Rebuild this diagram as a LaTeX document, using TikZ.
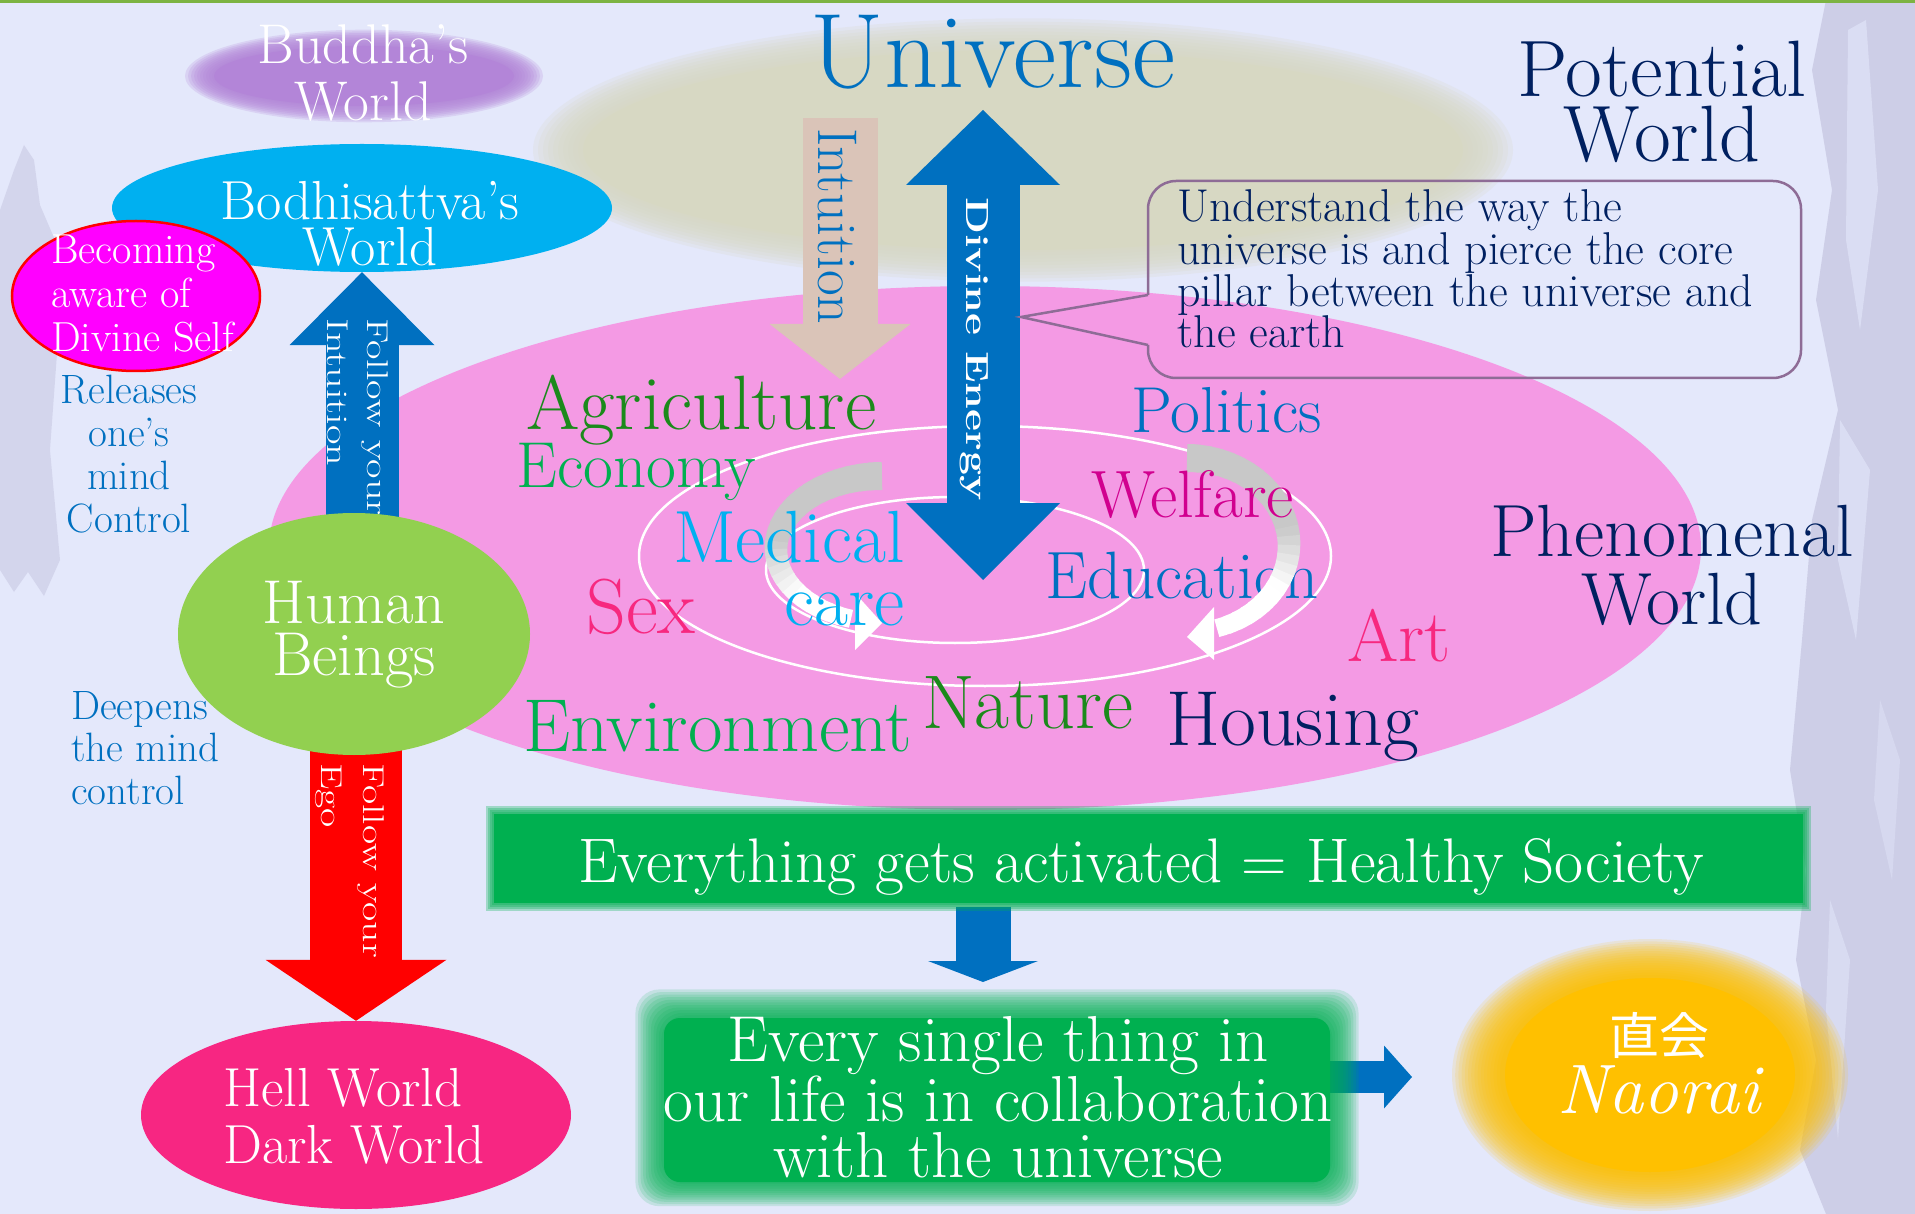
\documentclass[tikz,border=0pt]{standalone}
\usepackage{fontspec}
\usepackage{graphicx}
\newfontfamily\cjkfont{Noto Sans CJK JP}
\usetikzlibrary{shapes.geometric, arrows.meta, positioning}

% colours
\definecolor{paper}{HTML}{E4E8FB}
\definecolor{texture}{HTML}{CDCEE7}
\definecolor{topline}{HTML}{7CB342}
\definecolor{univblue}{HTML}{0070C0}
\definecolor{navy}{HTML}{002060}
\definecolor{leafgreen}{HTML}{00B050}
\definecolor{darkleaf}{HTML}{1B8A1B}
\definecolor{skycyan}{HTML}{00B0F0}
\definecolor{rosered}{HTML}{F7287F}
\definecolor{plum}{HTML}{D1008F}
\definecolor{phenopink}{HTML}{F49AE4}
\definecolor{hellpink}{HTML}{F72682}
\definecolor{selfmagenta}{HTML}{FF00FF}
\definecolor{selfred}{HTML}{FF0000}
\definecolor{khaki}{HTML}{D7D8C3}
\definecolor{buddhapurple}{HTML}{B385D8}
\definecolor{sand}{HTML}{DAC4B8}
\definecolor{lime}{HTML}{92D050}
\definecolor{calloutline}{HTML}{8E6C96}
\definecolor{gold}{HTML}{FFC000}
\definecolor{ringgray}{HTML}{C8C8C8}

\newcommand{\tsize}[2]{\fontsize{#1}{#2}\selectfont}

\tikzset{
  blob/.style={ellipse, inner sep=0pt},
  wordnode/.style={inner sep=0pt, anchor=base west},
  bigarrow/.style n args={4}{draw=#1, line width=#2, -{Triangle[line width=0pt, width=#3, length=#4]}},
}

\begin{document}
\begin{tikzpicture}[x=1pt, y=-1pt]
\useasboundingbox (0,0) rectangle (1915,1214);
\fill[paper] (0,0) rectangle (1915,1214);

% brush texture at the sides
\fill[texture] (1826,0) -- (1812,70) -- (1832,190) -- (1816,300) -- (1838,410) -- (1812,520)
  -- (1802,640) -- (1790,770) -- (1806,870) -- (1796,960) -- (1816,1060) -- (1800,1150)
  -- (1826,1214) -- (1915,1214) -- (1915,0) -- cycle;
\fill[paper, opacity=0.6] (1848,30) -- (1866,20) -- (1878,190) -- (1860,330) -- (1846,240) -- cycle;
\fill[paper, opacity=0.6] (1840,420) -- (1870,470) -- (1856,640) -- (1838,560) -- cycle;
\fill[paper, opacity=0.5] (1830,900) -- (1850,960) -- (1838,1140) -- (1826,1010) -- cycle;
\fill[paper, opacity=0.4] (1880,700) -- (1900,760) -- (1892,880) -- (1874,800) -- cycle;
\fill[texture, opacity=0.7] (0,210) -- (14,170) -- (24,145) -- (34,160) -- (40,205) -- (55,240)
  -- (58,340) -- (50,450) -- (60,560) -- (44,596) -- (28,572) -- (14,592) -- (0,570) -- cycle;
\fill[topline] (0,0) rectangle (1915,3);

% universe haze
\foreach \k in {0,...,9}
  \fill[khaki, opacity=0.2] (1023,150) ellipse [x radius={445+5*\k}, y radius={102+3.3*\k}];
\fill[khaki] (1023,150) ellipse [x radius=440, y radius=100];

% buddha haze
\foreach \k in {0,...,9}
  \fill[buddhapurple, opacity=0.22] (364,76) ellipse [x radius={152+3*\k}, y radius={31+1.7*\k}];
\fill[buddhapurple] (364,76) ellipse [x radius=150, y radius=30];

% phenomenal world
\node[blob, fill=phenopink, minimum width=1432pt, minimum height=524pt] (pheno) at (985,548) {};
\draw[white, line width=2.5pt] (985,556) ellipse [x radius=346, y radius=130];
\draw[white, line width=2.5pt] (955,570) ellipse [x radius=189, y radius=73];

\node[wordnode, text=univblue, font={\tsize{67}{67}}] (education) at (1045,598) {Education};

% turning arrows
\foreach \t in {90,96,...,246} {
  \pgfmathsetmacro\tend{\t+7}
  \pgfmathsetmacro\grayamt{max(0,min(100,(215-\t)*2.2))}
  \pgfmathsetmacro\bandw{28-10*(\t-90)/160}
  \draw[line width=\bandw pt, draw=ringgray!\grayamt!white]
    plot[domain=\t:\tend, samples=3, variable=\a] ({882+106*cos(\a)}, {549-73*sin(\a)});
}
\fill[white] (855,593) -- (882,623) -- (855,650) -- cycle;
\foreach \t in {90,84,...,-66} {
  \pgfmathsetmacro\tend{\t-7}
  \pgfmathsetmacro\grayamt{max(0,min(100,(\t+25)*2.5))}
  \pgfmathsetmacro\bandw{28-10*(90-\t)/160}
  \draw[line width=\bandw pt, draw=ringgray!\grayamt!white]
    plot[domain=\tend:\t, samples=3, variable=\a] ({1187+102*cos(\a)}, {545-87*sin(\a)});
}
\fill[white] (1214,607) -- (1187,637) -- (1214,660) -- cycle;

% words of society
\node[wordnode, text=darkleaf, font={\tsize{77}{77}}] (agriculture) at (526,430) {Agriculture};
\node[wordnode, text=leafgreen, font={\tsize{65}{65}}] (economy) at (516,487) {Economy};
\node[inner sep=0pt, anchor=base east, align=right, text=skycyan, font={\tsize{74}{63}}] (medical) at (905,625) {Medical\\care};
\node[wordnode, text=rosered, font={\tsize{78}{78}}] (sex) at (586,633) {Sex};
\node[wordnode, text=leafgreen, font={\tsize{75}{75}}] (environment) at (523,751) {Environment};
\node[wordnode, text=darkleaf, font={\tsize{76}{76}}] (nature) at (922,728) {Nature};
\node[wordnode, text=navy, font={\tsize{78}{78}}] (housing) at (1166,745) {Housing};
\node[wordnode, text=univblue, font={\tsize{65}{65}}] (politics) at (1131,433) {Politics};
\node[wordnode, text=plum, font={\tsize{67}{67}}] (welfare) at (1091,517) {Welfare};
\node[wordnode, text=rosered, font={\tsize{74}{74}}] (art) at (1347,661) {Art};

% intuition from the universe
\coordinate (intuitiontop) at (840,118);
\coordinate (intuitiontip) at (840,379);
\draw[bigarrow={sand}{75pt}{141pt}{55pt}] (intuitiontop) -- (intuitiontip);
\node[inner sep=0pt, anchor=base west, rotate=-90, text=univblue, font={\tsize{56}{56}}] (intuitiontext) at (818,128) {Intuition};

% divine energy
\coordinate (energytop) at (983,110);
\coordinate (energybottom) at (983,580);
\draw[draw=univblue, line width=73pt,
  {Triangle[line width=0pt, width=154pt, length=75pt]}-{Triangle[line width=0pt, width=154pt, length=77pt]}]
  (energytop) -- (energybottom);
\node[inner sep=0pt, anchor=base west, rotate=-90, text=white, font=\bfseries] (energytext) at (966,197)
  {\tsize{32}{32}\scalebox{1.34}[1]{Divine Energy}};

% callout
\coordinate (pillar) at (1021,317);
\draw[calloutline, line width=2.5pt, rounded corners=28pt]
  (1148,295) -- (1148,181) -- (1801,181) -- (1801,378) -- (1148,378) -- (1148,345);
\draw[calloutline, line width=2.5pt] (1148,295) -- (pillar) -- (1148,345);
\node[wordnode, align=left, text=navy, font={\tsize{46}{39.5}}] (callouttext) at (1177,348)
  {Understand the way the\\universe is and pierce the core\\pillar between the universe and\\the earth};

\node[inner sep=0pt, anchor=base, text=univblue, font={\tsize{106}{106}}] (universe) at (993,88) {Universe};
\node[inner sep=0pt, anchor=base, align=center, text=navy, font={\tsize{80}{65}}] (potential) at (1662,162) {Potential\\World};
\node[inner sep=0pt, anchor=base, align=center, text=navy, font={\tsize{74}{68}}] (phenomenal) at (1672,624) {Phenomenal\\World};

% ladder of worlds
\coordinate (humancore) at (354,634);
\node[blob, fill=skycyan, minimum width=500pt, minimum height=128pt] (bodhi) at (362,208) {};
\node[blob, fill=selfmagenta, draw=selfred, line width=2.5pt, minimum width=248pt, minimum height=150pt] (becoming) at (136,296) {};
\node[blob, fill=hellpink, minimum width=430pt, minimum height=188pt] (hell) at (356,1115) {};
\draw[bigarrow={univblue}{73pt}{145pt}{73pt}] (bodhi.south |- humancore) -- (bodhi.south);
\draw[bigarrow={selfred}{92pt}{181pt}{61pt}] (hell.north |- humancore) -- (hell.north);
\node[blob, fill=lime, minimum width=352pt, minimum height=242pt] (human) at (humancore) {};

\node[inner sep=0pt, anchor=north west, rotate=-90, text=white] (followup) at (396,318)
  {\tsize{30}{40}\scalebox{1.41}[1]{\begin{tabular}{@{}l@{}}Follow your\\Intuition\end{tabular}}};
\node[inner sep=0pt, anchor=north west, rotate=-90, text=white] (followdown) at (393,763)
  {\tsize{30}{42}\scalebox{1.39}[1]{\begin{tabular}{@{}l@{}}Follow your\\Ego\end{tabular}}};

\node[inner sep=0pt, anchor=base, align=center, text=white, font={\tsize{56}{57}}] (buddhatext) at (363,121) {Buddha’s\\World};
\node[inner sep=0pt, anchor=base, align=center, text=white, font={\tsize{55}{46}}] (bodhitext) at (370,266) {Bodhisattva’s\\World};
\node[wordnode, align=left, text=white, font={\tsize{42}{44}}] (becomingtext) at (51,352) {Becoming\\aware of\\Divine Self};
\node[inner sep=0pt, anchor=base, align=center, text=univblue, font={\tsize{41}{43}}] (releases) at (129,532) {Releases\\one’s\\mind\\Control};
\node[wordnode, align=left, text=univblue, font={\tsize{41}{42.5}}] (deepens) at (71,804) {Deepens\\the mind\\control};
\node[inner sep=0pt, anchor=base, align=center, text=white, font={\tsize{62}{52}}] (humantext) at (354,675) {Human\\Beings};
\node[wordnode, align=left, text=white, font={\tsize{55}{57}}] (helltext) at (223,1163) {Hell World\\Dark World};

% healthy society
\node[minimum width=1317pt, minimum height=97pt, inner sep=0pt] (activated) at (1148,858) {};
\coordinate (settle) at (983,982);
\draw[bigarrow={univblue}{55pt}{110pt}{21pt}] (activated.south -| energytop) -- (settle);
\foreach \k in {0,...,4}
  \fill[leafgreen, opacity=0.3] ({494-2*\k},{814-2*\k}) rectangle ({1803+2*\k},{903+2*\k});
\fill[leafgreen] (494,814) rectangle (1803,903);
\node[inner sep=0pt, anchor=base, text=white, font={\tsize{63}{63}}] (activatedtext) at (1141,882)
  {Everything gets activated = Healthy Society};

% collaboration
\node[minimum width=628pt, minimum height=123pt, inner sep=0pt] (collab) at (998,1101) {};
\coordinate (handoff) at (1412,1077);
\draw[bigarrow={univblue}{32pt}{63pt}{28pt}] (collab.east |- handoff) -- (handoff);
\foreach \k in {0,...,11}
  \fill[leafgreen, opacity=0.14, rounded corners=24pt] ({664-2.6*\k},{1018-2.6*\k}) rectangle ({1330+2.6*\k},{1182+2.2*\k});
\fill[leafgreen, rounded corners=16pt] (664,1018) rectangle (1330,1182);
\node[inner sep=0pt, anchor=base, align=center, text=white, font={\tsize{65}{56}}] (collabtext) at (998,1177)
  {Every single thing in\\our life is in collaboration\\with the universe};

% naorai
\foreach \k in {0,...,15}
  \fill[gold, opacity=0.13] (1650,1075) ellipse [x radius={150+3.2*\k}, y radius={100+2.4*\k}];
\fill[gold] (1650,1075) ellipse [x radius=145, y radius=97];
\node[inner sep=0pt, anchor=base, text=white, font={\cjkfont\tsize{50}{50}}] (naoraikanji) at (1659,1054) {直会};
\node[inner sep=0pt, anchor=base, text=white, font={\itshape\tsize{70}{70}}] (naorai) at (1659,1113) {Naorai};
\end{tikzpicture}
\end{document}
